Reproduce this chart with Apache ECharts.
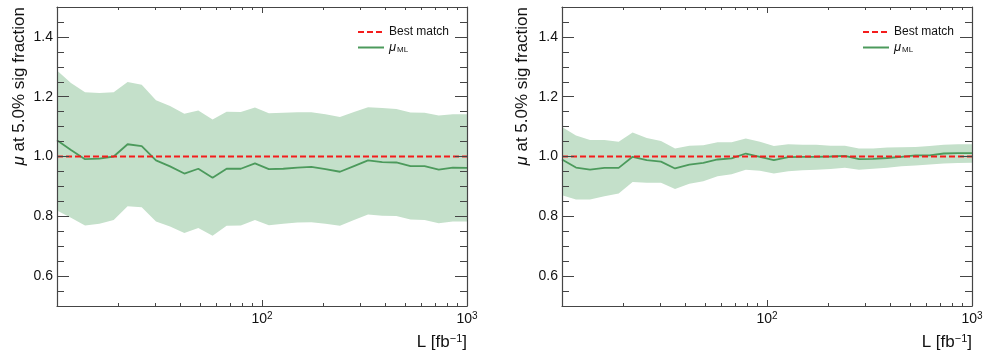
<!DOCTYPE html>
<html>
<head>
<meta charset="utf-8">
<script src="https://cdn.jsdelivr.net/npm/echarts@6/dist/echarts.min.js"></script>
<style>
  html, body { margin: 0; padding: 0; background: #fff; }
  #main { width: 988px; height: 355px; }
</style>
</head>
<body>
<div id="main"></div>
<script>
// luminosity points (log spaced)
const lumi = [10, 11.7, 13.7, 16.1, 18.9, 22.1, 25.9, 30.4, 35.6, 41.8, 48.9, 57.4, 67.2, 78.8, 92.4,
  108, 127, 149, 174, 204, 240, 281, 329, 386, 452, 530, 621, 728, 853, 1000];

// left panel
const muA = [1.054, 1.022, 0.991, 0.993, 1.000, 1.041, 1.035, 0.987, 0.967, 0.943, 0.959, 0.929, 0.959, 0.959, 0.977,
  0.958, 0.959, 0.963, 0.965, 0.958, 0.949, 0.968, 0.987, 0.981, 0.980, 0.968, 0.968, 0.956, 0.963, 0.962];
const hiA = [1.288, 1.246, 1.215, 1.212, 1.215, 1.249, 1.240, 1.188, 1.169, 1.143, 1.154, 1.124, 1.150, 1.149, 1.164,
  1.145, 1.146, 1.148, 1.148, 1.141, 1.132, 1.149, 1.165, 1.162, 1.159, 1.147, 1.146, 1.137, 1.141, 1.141];
const loA = [0.819, 0.795, 0.769, 0.775, 0.788, 0.834, 0.830, 0.783, 0.766, 0.744, 0.761, 0.735, 0.768, 0.769, 0.788,
  0.770, 0.775, 0.779, 0.780, 0.775, 0.768, 0.788, 0.806, 0.802, 0.801, 0.789, 0.788, 0.777, 0.783, 0.783];

// right panel
const muB = [0.990, 0.963, 0.956, 0.962, 0.962, 0.999, 0.988, 0.983, 0.960, 0.973, 0.979, 0.990, 0.994, 1.010, 0.999,
  0.988, 0.998, 0.999, 0.999, 1.000, 1.002, 0.991, 0.992, 0.995, 0.999, 1.004, 1.004, 1.010, 1.011, 1.011];
const hiB = [1.099, 1.070, 1.055, 1.055, 1.049, 1.080, 1.062, 1.052, 1.027, 1.036, 1.038, 1.048, 1.048, 1.060, 1.049,
  1.035, 1.041, 1.039, 1.039, 1.036, 1.036, 1.027, 1.027, 1.030, 1.031, 1.032, 1.035, 1.039, 1.041, 1.041];
const loB = [0.870, 0.856, 0.856, 0.867, 0.876, 0.915, 0.912, 0.912, 0.891, 0.909, 0.917, 0.934, 0.941, 0.956, 0.952,
  0.943, 0.951, 0.954, 0.956, 0.958, 0.962, 0.956, 0.959, 0.962, 0.967, 0.970, 0.973, 0.977, 0.978, 0.979];

const bestMatch = 1.0;

// ticks
const xMajor = [10, 100, 1000];
const xLabels = [100, 1000];
const xMinor = [20, 30, 40, 50, 60, 70, 80, 90, 200, 300, 400, 500, 600, 700, 800, 900];
const yMajor = [0.6, 0.8, 1.0, 1.2, 1.4];
const yMinor = [0.55, 0.65, 0.7, 0.75, 0.85, 0.9, 0.95, 1.05, 1.1, 1.15, 1.25, 1.3, 1.35, 1.45];

const FONT = 'Liberation Sans';
const frameColor = '#454545';
const bandColor = '#c4e0ca';
const lineColor = '#4c9a5c';

const chart = echarts.init(document.getElementById('main'));

const grids = [
  { left: 57, right: 521, top: 7, bottom: 49 },
  { left: 562, right: 16, top: 7, bottom: 49 }
];

const supRich = {
  b: { fontSize: 14, fontFamily: FONT, color: '#111' },
  s: { fontSize: 10, fontFamily: FONT, color: '#111', verticalAlign: 'top', padding: [0, 0, 6, 0] }
};

function makeXAxes(g) {
  const base = { gridIndex: g, type: 'log', logBase: 10, min: 10, max: 1000, splitLine: { show: false }, z: 10 };
  const tickStyle = { color: frameColor, width: 1 };
  return [
    Object.assign({}, base, {
      position: 'bottom',
      axisLine: { show: true, lineStyle: { color: frameColor, width: 1.2 } },
      axisTick: { inside: true, length: 6, customValues: xMajor, lineStyle: tickStyle },
      axisLabel: {
        customValues: xLabels, margin: 5, rich: supRich,
        formatter: v => '{b|10}{s|' + Math.round(Math.log10(v)) + '}'
      }
    }),
    Object.assign({}, base, {
      position: 'bottom', axisLine: { show: false },
      axisTick: { inside: true, length: 3, customValues: xMinor, lineStyle: tickStyle },
      axisLabel: { show: false }
    }),
    Object.assign({}, base, {
      position: 'top',
      axisLine: { show: true, lineStyle: { color: frameColor, width: 1.2 } },
      axisTick: { inside: true, length: 6, customValues: xMajor, lineStyle: tickStyle },
      axisLabel: { show: false }
    }),
    Object.assign({}, base, {
      position: 'top', axisLine: { show: false },
      axisTick: { inside: true, length: 3, customValues: xMinor, lineStyle: tickStyle },
      axisLabel: { show: false }
    })
  ];
}

function makeYAxes(g) {
  const base = { gridIndex: g, type: 'value', min: 0.5, max: 1.5, splitLine: { show: false }, z: 10 };
  const tickStyle = { color: frameColor, width: 1 };
  const out = [];
  ['left', 'right'].forEach(pos => {
    out.push(Object.assign({}, base, {
      position: pos,
      axisLine: { show: true, lineStyle: { color: frameColor, width: 1.2 } },
      axisTick: { inside: true, length: 12, customValues: yMajor, lineStyle: tickStyle },
      axisLabel: pos === 'left'
        ? { customValues: yMajor, margin: 4, fontSize: 14, fontFamily: FONT, color: '#111', formatter: v => v.toFixed(1) }
        : { show: false }
    }));
    out.push(Object.assign({}, base, {
      position: pos, axisLine: { show: false },
      axisTick: { inside: true, length: 7, customValues: yMinor, lineStyle: tickStyle },
      axisLabel: { show: false }
    }));
  });
  return out;
}

function bandSeries(g, lo, hi) {
  return {
    type: 'custom',
    xAxisIndex: g * 4, yAxisIndex: g * 4,
    data: [[lumi[0], lo[0]]],
    clip: true, silent: true, z: 1,
    renderItem: (params, api) => {
      const pts = [];
      for (let i = 0; i < lumi.length; i++) pts.push(api.coord([lumi[i], hi[i]]));
      for (let i = lumi.length - 1; i >= 0; i--) pts.push(api.coord([lumi[i], lo[i]]));
      return { type: 'polygon', shape: { points: pts }, style: { fill: bandColor } };
    }
  };
}

function panelSeries(g, mu, lo, hi) {
  return [
    bandSeries(g, lo, hi),
    {
      name: 'mu_ML', type: 'line', xAxisIndex: g * 4, yAxisIndex: g * 4,
      data: lumi.map((x, i) => [x, mu[i]]),
      symbol: 'none', z: 3,
      lineStyle: { color: lineColor, width: 1.8 }, itemStyle: { color: lineColor }
    },
    {
      name: 'Best match', type: 'line', xAxisIndex: g * 4, yAxisIndex: g * 4,
      data: [[lumi[0], bestMatch], [lumi[lumi.length - 1], bestMatch]],
      symbol: 'none', z: 4,
      lineStyle: { color: '#f41c1c', width: 1.8, type: [6, 3] }, itemStyle: { color: '#f41c1c' }
    }
  ];
}

function makeLegend(left) {
  return {
    left: left, top: 21, orient: 'vertical', itemGap: 3,
    itemWidth: 26, itemHeight: 12,
    itemStyle: { opacity: 0 },
    data: ['Best match', 'mu_ML'],
    formatter: n => n === 'mu_ML' ? '{m|μ}{s|ML}' : n,
    textStyle: {
      fontSize: 12, fontFamily: FONT, color: '#111',
      rich: {
        m: { fontSize: 13, fontFamily: FONT, fontStyle: 'italic', color: '#111' },
        s: { fontSize: 8, fontFamily: FONT, color: '#111', verticalAlign: 'bottom', padding: [5, 0, 0, 1] }
      }
    }
  };
}

function yTitle(x) {
  return {
    type: 'text', x: x, y: 7, rotation: Math.PI / 2, z: 20,
    style: {
      text: '{i|μ} at 5.0% sig fraction',
      fontSize: 17, fontFamily: FONT, fill: '#111',
      align: 'right', verticalAlign: 'middle', textAlign: 'right', textVerticalAlign: 'middle',
      rich: { i: { fontSize: 17, fontFamily: FONT, fontStyle: 'italic', fill: '#111' } }
    }
  };
}

function xTitle(x) {
  return {
    type: 'text', x: x, y: 342, z: 20,
    style: {
      text: 'L [fb{s|−1}]',
      fontSize: 17, fontFamily: FONT, fill: '#111',
      align: 'right', verticalAlign: 'middle', textAlign: 'right', textVerticalAlign: 'middle',
      rich: { s: { fontSize: 11, fontFamily: FONT, fill: '#111', verticalAlign: 'top' } }
    }
  };
}

const option = {
  animation: false,
  backgroundColor: '#fff',
  grid: grids,
  xAxis: makeXAxes(0).concat(makeXAxes(1)),
  yAxis: makeYAxes(0).concat(makeYAxes(1)),
  legend: [makeLegend(352), makeLegend(857)],
  series: panelSeries(0, muA, loA, hiA).concat(panelSeries(1, muB, loB, hiB)),
  graphic: [yTitle(19), yTitle(522), xTitle(467), xTitle(972)]
};

chart.setOption(option);
</script>
</body>
</html>
